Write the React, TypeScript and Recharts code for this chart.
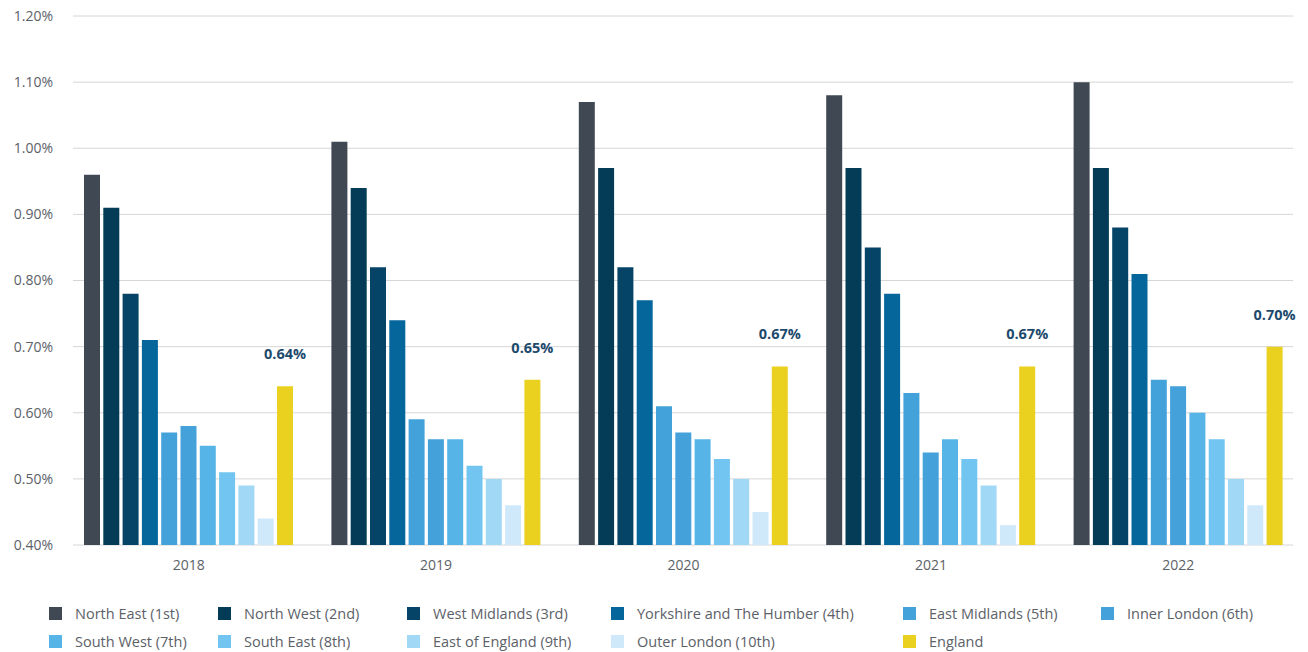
import { BarChart, Bar, XAxis, YAxis, CartesianGrid, LabelList } from 'recharts';

// Years along the x axis
const YEARS = ['2018', '2019', '2020', '2021', '2022'];

// Series, ranked by region (values in %)
const NORTH_EAST = [0.96, 1.01, 1.07, 1.08, 1.10];
const NORTH_WEST = [0.91, 0.94, 0.97, 0.97, 0.97];
const WEST_MIDLANDS = [0.78, 0.82, 0.82, 0.85, 0.88];
const YORKSHIRE = [0.71, 0.74, 0.77, 0.78, 0.81];
const EAST_MIDLANDS = [0.57, 0.59, 0.61, 0.63, 0.65];
const INNER_LONDON = [0.58, 0.56, 0.57, 0.54, 0.64];
const SOUTH_WEST = [0.55, 0.56, 0.56, 0.56, 0.60];
const SOUTH_EAST = [0.51, 0.52, 0.53, 0.53, 0.56];
const EAST_OF_ENGLAND = [0.49, 0.50, 0.50, 0.49, 0.50];
const OUTER_LONDON = [0.44, 0.46, 0.45, 0.43, 0.46];
const ENGLAND = [0.64, 0.65, 0.67, 0.67, 0.70];

const Y_TICKS = [0.4, 0.5, 0.6, 0.7, 0.8, 0.9, 1.0, 1.1, 1.2];

const SERIES = [
  { key: 'ne', name: 'North East (1st)', values: NORTH_EAST, color: '#404853' },
  { key: 'nw', name: 'North West (2nd)', values: NORTH_WEST, color: '#043b56' },
  { key: 'wm', name: 'West Midlands (3rd)', values: WEST_MIDLANDS, color: '#054466' },
  { key: 'yh', name: 'Yorkshire and The Humber (4th)', values: YORKSHIRE, color: '#04669b' },
  { key: 'em', name: 'East Midlands (5th)', values: EAST_MIDLANDS, color: '#44a2da' },
  { key: 'il', name: 'Inner London (6th)', values: INNER_LONDON, color: '#44a1da' },
  { key: 'sw', name: 'South West (7th)', values: SOUTH_WEST, color: '#56b5e6' },
  { key: 'se', name: 'South East (8th)', values: SOUTH_EAST, color: '#72c5f1' },
  { key: 'ee', name: 'East of England (9th)', values: EAST_OF_ENGLAND, color: '#a1d8f6' },
  { key: 'ol', name: 'Outer London (10th)', values: OUTER_LONDON, color: '#cfe9fb' },
  { key: 'eng', name: 'England', values: ENGLAND, color: '#ead01f' },
];

const data = YEARS.map((year, i) => {
  const row: Record<string, any> = { year };
  SERIES.forEach(s => { row[s.key] = s.values[i]; });
  return row;
});

// legend columns (left edge of each item)
const LEGEND_COLS = [49, 218, 407, 611, 903, 1101];
const FONT = '"Open Sans", sans-serif';

// gridlines are inset a little from the plot edges
const GridLine = (props: any) => (
  <line
    key={props.key}
    x1={props.x1 + 8}
    x2={props.x2 - 9}
    y1={props.y1}
    y2={props.y2}
    stroke="#d6d6d6"
    strokeWidth={1}
  />
);

export default function App() {
  return (
    <div style={{ position: 'absolute', left: 0, top: 0, width: 1308, height: 652, background: '#fff', fontFamily: FONT }}>
      <BarChart
        width={1308}
        height={590}
        data={data}
        margin={{ top: 16, right: 6, left: 0, bottom: 15 }}
        barSize={16}
        barGap={3.3}
      >
        <CartesianGrid vertical={false} horizontal={GridLine} />
        <XAxis
          dataKey="year"
          axisLine={false}
          tickLine={false}
          height={30}
          tickMargin={9}
          tick={{ fill: '#5c6168', fontSize: 14, fontFamily: FONT }}
        />
        <YAxis
          domain={[0.4, 1.2]}
          ticks={Y_TICKS}
          width={65}
          axisLine={false}
          tickLine={false}
          tickSize={0}
          tickMargin={12}
          tickFormatter={(v: number) => `${v.toFixed(2)}%`}
          tick={{ fill: '#5c6168', fontSize: 14, fontFamily: FONT }}
        />
        {SERIES.map(s => (
          <Bar key={s.key} dataKey={s.key} name={s.name} fill={s.color} isAnimationActive={false}>
            {s.key === 'eng' && (
              <LabelList
                dataKey="eng"
                position="top"
                offset={27}
                formatter={(v: any) => `${Number(v).toFixed(2)}%`}
                style={{ fill: '#1d4a6c', fontSize: 14.5, fontWeight: 700, fontFamily: FONT }}
              />
            )}
          </Bar>
        ))}
      </BarChart>
      {SERIES.map((s, i) => {
        const col = i % 6;
        const row = Math.floor(i / 6);
        return (
          <div
            key={s.key}
            style={{
              position: 'absolute',
              left: LEGEND_COLS[col],
              top: 604 + row * 28,
              display: 'flex',
              alignItems: 'center',
              whiteSpace: 'nowrap',
              fontSize: 14.5,
              color: '#5c6168',
            }}
          >
            <span style={{ width: 13, height: 13, background: s.color, display: 'inline-block', marginRight: 13 }} />
            <span>{s.name}</span>
          </div>
        );
      })}
    </div>
  );
}
